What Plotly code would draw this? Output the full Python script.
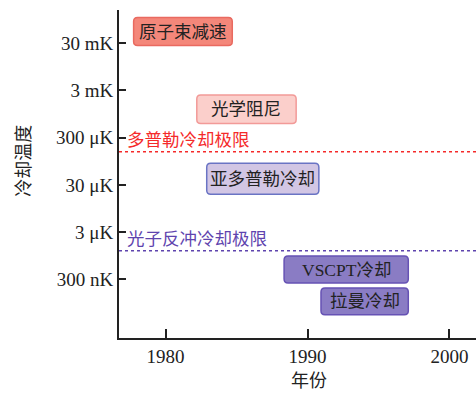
import math
import plotly.graph_objects as go

# ---- data ----
techniques = ["原子束减速", "光学阻尼", "亚多普勒冷却", "VSCPT冷却", "拉曼冷却"]
start_year = [1977.75, 1982.2, 1982.9, 1988.35, 1990.95]
end_year = [1984.7, 1989.2, 1990.8, 1997.1, 1997.1]
temp_high = [0.105, 2.4e-3, 8.6e-5, 9.3e-7, 1.95e-7]
temp_low = [0.027, 6.0e-4, 1.9e-5, 2.5e-7, 5.3e-8]
fill_colors = ["#f4877a", "#fbcfcb", "#d2c6e4", "#8a7cc4", "#8a7cc4"]
edge_colors = ["#e96a60", "#f29a98", "#6a74c4", "#6652b4", "#6652b4"]

limit_names = ["多普勒冷却极限", "光子反冲冷却极限"]
limit_temps = [1.51e-4, 1.21e-6]
limit_colors = ["#f52a2a", "#5e44ae"]

tick_vals = [3e-2, 3e-3, 3e-4, 3e-5, 3e-6, 3e-7]
tick_text = ["30 mK", "3 mK", "300 μK", "30 μK", "3 μK", "300 nK"]
year_ticks = [1980, 1990, 2000]

x_range = [1976.72, 2001.87]
y_range = [-7.767, -0.818]

SERIF = '"Liberation Serif", "Times New Roman", "Noto Sans CJK SC", serif'
CJK = '"Noto Sans CJK SC", "Liberation Serif", serif'

fig = go.Figure()
# invisible trace to establish axes
fig.add_trace(go.Scatter(x=[x_range[0]], y=[tick_vals[0]], mode="markers",
                         marker=dict(opacity=0), showlegend=False, hoverinfo="skip"))

shapes = []
annotations = []

rx = 0.28          # corner radius in years
fy = 10 ** 0.085   # corner radius as multiplicative factor on log axis
for name, x0, x1, th, tl, fc, ec in zip(techniques, start_year, end_year,
                                        temp_high, temp_low, fill_colors, edge_colors):
    path = (f"M {x0+rx},{tl} L {x1-rx},{tl} Q {x1},{tl} {x1},{tl*fy} "
            f"L {x1},{th/fy} Q {x1},{th} {x1-rx},{th} "
            f"L {x0+rx},{th} Q {x0},{th} {x0},{th/fy} "
            f"L {x0},{tl*fy} Q {x0},{tl} {x0+rx},{tl} Z")
    shapes.append(dict(type="path", path=path, xref="x", yref="y",
                       fillcolor=fc, line=dict(color=ec, width=1.5), layer="above"))
    annotations.append(dict(x=(x0 + x1) / 2, y=(math.log10(th) + math.log10(tl)) / 2,
                            xref="x", yref="y", text=name, showarrow=False,
                            font=dict(family=SERIF, size=17.5, color="#222222")))

for name, t, c in zip(limit_names, limit_temps, limit_colors):
    shapes.append(dict(type="line", xref="paper", yref="y", x0=0, x1=1, y0=t, y1=t,
                       line=dict(color=c, width=1.5, dash="dot")))
    annotations.append(dict(x=x_range[0] + 0.45, y=math.log10(t), xref="x", yref="y",
                            xanchor="left", yanchor="bottom", yshift=-1,
                            text=name, showarrow=False,
                            font=dict(family=CJK, size=17.5, color=c)))

annotations.append(dict(x=0.532, y=-0.126, xref="paper", yref="paper", text="年份",
                        showarrow=False, xanchor="center", yanchor="middle",
                        font=dict(family=CJK, size=18, color="#222222")))
annotations.append(dict(x=-0.272, y=0.54, xref="paper", yref="paper", text="冷却温度",
                        showarrow=False, textangle=-90, xanchor="center", yanchor="middle",
                        font=dict(family=CJK, size=18, color="#222222")))

fig.update_layout(
    width=476, height=393,
    margin=dict(l=119, r=0, t=10, b=55),
    paper_bgcolor="white", plot_bgcolor="white",
    showlegend=False,
    shapes=shapes, annotations=annotations,
    xaxis=dict(range=x_range, tickvals=year_ticks, ticks="inside", ticklen=9,
               tickwidth=2, tickcolor="#222222", showline=True, linewidth=2,
               linecolor="#222222", showgrid=False, zeroline=False,
               tickfont=dict(family=SERIF, size=19, color="#222222")),
    yaxis=dict(type="log", range=y_range, tickvals=tick_vals, ticktext=tick_text,
               ticks="inside", ticklen=7, tickwidth=2, tickcolor="#222222",
               showline=True, linewidth=2, linecolor="#222222", showgrid=False,
               zeroline=False, autorange=False,
               tickfont=dict(family=SERIF, size=19, color="#222222")),
)

fig.write_html("out.html")
